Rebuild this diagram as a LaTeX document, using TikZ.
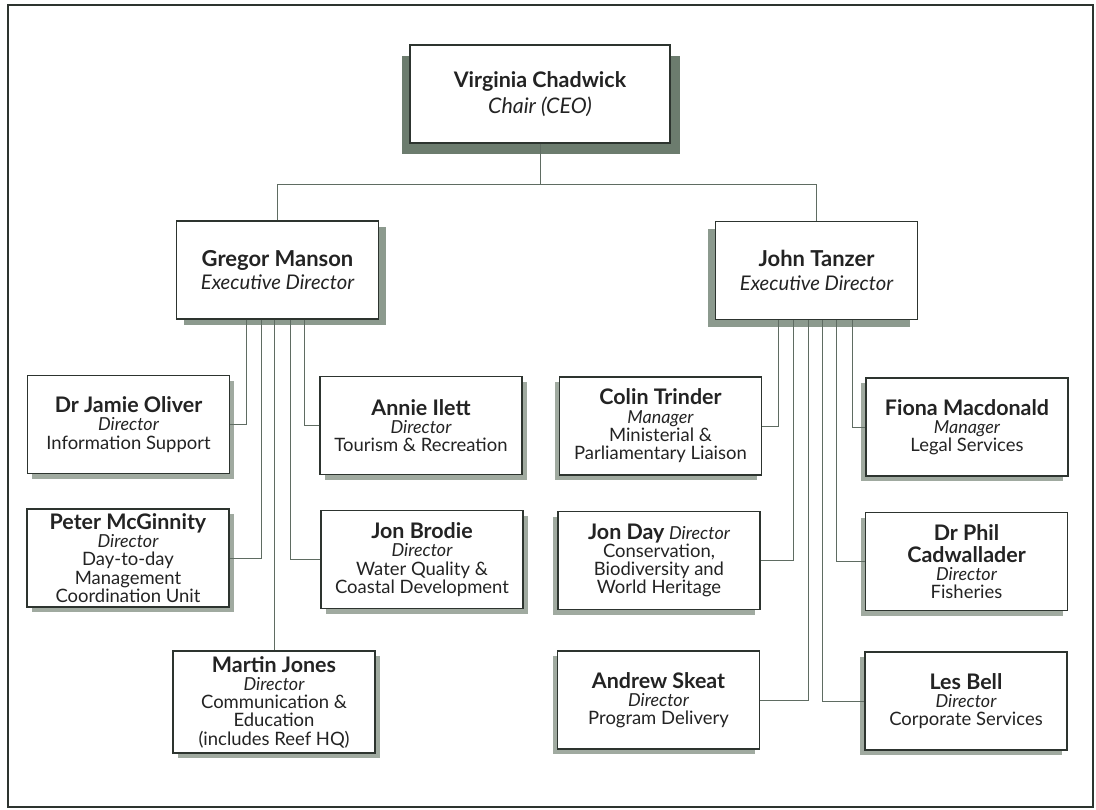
\documentclass[tikz,border=0pt]{standalone}
\usepackage{fontspec}
\setmainfont{Lato}
\usetikzlibrary{shadows}

\definecolor{boxline}{RGB}{45,52,47}
\definecolor{wire}{RGB}{95,108,98}
\definecolor{ink}{RGB}{35,35,35}
\definecolor{shadeS}{RGB}{160,170,160}
\definecolor{shadeE}{RGB}{140,154,142}
\definecolor{shadeC}{RGB}{108,124,110}

\newcommand{\who}[1]{{\fontsize{12.2}{10.4}\selectfont\bfseries #1}}
\newcommand{\post}[1]{{\fontsize{10.2}{10.4}\selectfont\itshape #1}}

\begin{document}
\begin{tikzpicture}[x=0.02cm, y=-0.02cm,
    every node/.style={font=\fontsize{10.5}{10.4}\selectfont, text=ink},
    box/.style={draw=boxline, line width=0.7pt, fill=white, align=center,
      inner sep=0pt, minimum width=4.04cm, minimum height=1.96cm},
    lbox/.style={box, general shadow={fill=shadeS, shadow xshift=2.8pt, shadow yshift=-3pt}},
    rbox/.style={box, general shadow={fill=shadeS, shadow xshift=-2.8pt, shadow yshift=-3pt}},
    ebox/.style={box, font=\fontsize{11.5}{13.6}\selectfont},
    link/.style={draw=wire, line width=0.5pt}]

    \useasboundingbox (0,0) rectangle (1096,809);

    % --- 1. 外枠 ---
    \draw[boxline, line width=1.1pt] (8,5) rectangle (1093,807);

    % --- 2. 上位の箱 ---
    \node[box, minimum width=5.2cm, font=\fontsize{12.2}{14.7}\selectfont,
      general shadow={fill=shadeC, shadow xshift=-4.5pt, shadow yshift=-6pt},
      general shadow={fill=shadeC, shadow xshift=5.7pt, shadow yshift=-6pt}]
      (vc) at (540,94) {{\bfseries Virginia Chadwick}\\{\itshape Chair (CEO)}};
    \node[ebox, general shadow={fill=shadeE, shadow xshift=4pt, shadow yshift=-3.5pt}]
      (gm) at (277.5,270) {{\fontsize{12.5}{13.6}\selectfont\bfseries Gregor Manson}\\{\itshape Executive Director}};
    \node[ebox, general shadow={fill=shadeE, shadow xshift=-4.5pt, shadow yshift=-4pt}]
      (jt) at (816.5,270.5) {{\fontsize{12.5}{13.6}\selectfont\bfseries John Tanzer}\\{\itshape Executive Director}};

    % --- 3. 左側の箱 ---
    \node[lbox] (jo) at (128.5,424.5) {\who{Dr Jamie Oliver}\\\post{Director}\\Information Support};
    \node[lbox] (pm) at (128,558) {\who{Peter McGinnity}\\\post{Director}\\Day-to-day\\Management\\Coordination Unit};
    \node[lbox, minimum height=2.04cm] (mj) at (274,702)
      {\who{Martin Jones}\\\post{Director}\\Communication \&\\Education\\(includes Reef HQ)};
    \node[lbox] (ai) at (421,425.5) {\who{Annie Ilett}\\\post{Director}\\Tourism \& Recreation};
    \node[lbox] (jb) at (422,559.5) {\who{Jon Brodie}\\\post{Director}\\Water Quality \&\\Coastal Development};

    % --- 4. 右側の箱 ---
    \node[rbox] (ct) at (660.5,426) {\who{Colin Trinder}\\\post{Manager}\\Ministerial \&\\Parliamentary Liaison};
    \node[rbox] (jd) at (659,560.5) {\who{Jon Day} \post{Director}\\Conservation,\\Biodiversity and\\World Heritage};
    \node[rbox] (as) at (658.5,700) {\who{Andrew Skeat}\\\post{Director}\\Program Delivery};
    \node[rbox] (fm) at (967,427) {\who{Fiona Macdonald}\\\post{Manager}\\Legal Services};
    \node[rbox] (pc) at (966.5,561.5) {\who{Dr Phil}\\[2pt]\who{Cadwallader}\\\post{Director}\\Fisheries};
    \node[rbox] (lb) at (966,701) {\who{Les Bell}\\\post{Director}\\Corporate Services};

    % --- 5. 線 ---
    % 縦線の x 座標
    \def\xJO{246}
    \def\xPM{261}
    \def\xJB{290}
    \def\xAI{304}
    \def\xCT{778}
    \def\xJD{793}
    \def\xAS{808}
    \def\xLB{822}
    \def\xPC{836}
    \def\xFM{852}
    \coordinate (bus) at (0,184);

    \draw[link] (vc.south) -- (vc.south |- bus);
    \draw[link] (gm.north) -- (gm.north |- bus) -- (jt.north |- bus) -- (jt.north);

    \draw[link] (gm.south -| \xJO,0) |- (jo.east);
    \draw[link] (gm.south -| \xPM,0) |- (pm.east);
    \draw[link] (mj.north |- gm.south) -- (mj.north);
    \draw[link] (gm.south -| \xJB,0) |- (jb.west);
    \draw[link] (gm.south -| \xAI,0) |- (ai.west);

    \draw[link] (jt.south -| \xCT,0) |- (ct.east);
    \draw[link] (jt.south -| \xJD,0) |- (jd.east);
    \draw[link] (jt.south -| \xAS,0) |- (as.east);
    \draw[link] (jt.south -| \xLB,0) |- (lb.west);
    \draw[link] (jt.south -| \xPC,0) |- (pc.west);
    \draw[link] (jt.south -| \xFM,0) |- (fm.west);

\end{tikzpicture}
\end{document}
